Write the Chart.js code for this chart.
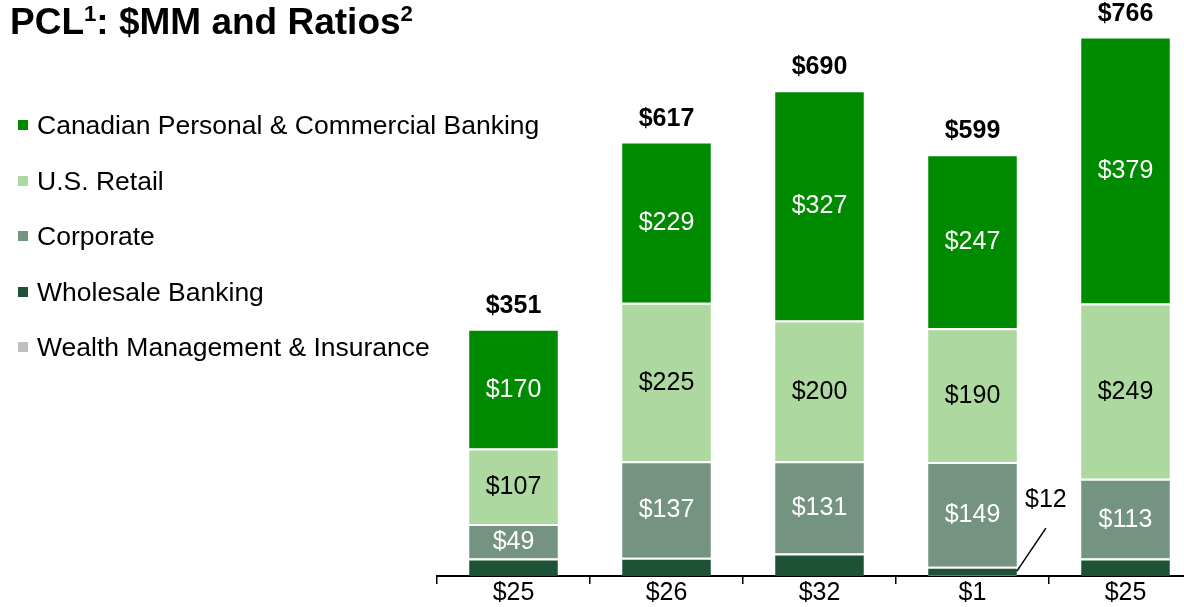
<!DOCTYPE html>
<html><head><meta charset="utf-8">
<script src="https://cdn.jsdelivr.net/npm/chart.js@4.4.1/dist/chart.umd.min.js"></script>
<style>
html,body{margin:0;padding:0;width:1184px;height:607px;overflow:hidden;background:#fff;font-family:"Liberation Sans",Arial,sans-serif;}
#title{position:absolute;left:10px;top:1px;font-weight:bold;font-size:37px;color:#000;white-space:nowrap;z-index:2;line-height:42px}
#title sup{font-size:0.6em;vertical-align:0.6em;line-height:0}
.li{position:absolute;left:18px;white-space:nowrap;font-size:26.5px;color:#000;height:30px;line-height:30px;z-index:2}
.sw{display:inline-block;width:10px;height:10px;margin-right:9px;vertical-align:middle;position:relative;top:-2px}
#c{position:absolute;left:0;top:0}
</style></head>
<body>
<div id="title">PCL<sup>1</sup>: $MM and Ratios<sup>2</sup></div>
<div id="legend"></div>
<canvas id="c" width="1230" height="607" style="width:1230px;height:607px"></canvas>
<script>
// x tick labels shown under each bar
const categories = ['$25', '$26', '$32', '$1', '$25'];
// series values ($MM)
const cpcb      = [170, 229, 327, 247, 379];
const usRetail  = [107, 225, 200, 190, 249];
const corporate = [49, 137, 131, 149, 113];
const wholesale = [25, 26, 32, 12, 25];
const wealth    = [0, 0, 0, 1, 0];
const totals    = [351, 617, 690, 599, 766];
const seriesNames = ['Canadian Personal & Commercial Banking', 'U.S. Retail', 'Corporate', 'Wholesale Banking', 'Wealth Management & Insurance'];
const seriesColors = ['#008A00', '#ADD9A0', '#759381', '#1E5236', '#BFBFBF'];
const calloutIndex = 3; // wholesale value shown with leader line
const calloutText = '$12';

// HTML legend
const legendEl = document.getElementById('legend');
seriesNames.forEach((n, i) => {
  const d = document.createElement('div');
  d.className = 'li';
  d.style.top = (110 + i * 55.5) + 'px';
  d.innerHTML = '<span class="sw" style="background:' + seriesColors[i] + '"></span>';
  d.appendChild(document.createTextNode(n));
  legendEl.appendChild(d);
});

const FONT = '"Liberation Sans", Arial, sans-serif';
const ds = (label, data, color, labelColor) => ({
  label, data, backgroundColor: color,
  borderColor: '#ffffff', borderWidth: {top: 2, bottom: 0, left: 0, right: 0}, borderSkipped: false,
  labelColor
});

const labelPlugin = {
  id: 'segLabels',
  afterDatasetsDraw(chart) {
    const ctx = chart.ctx;
    ctx.save();
    chart.data.datasets.forEach((d, di) => {
      const meta = chart.getDatasetMeta(di);
      if (d.labelColor) {
        meta.data.forEach((el, i) => {
          const v = d.data[i];
          ctx.font = '25px ' + FONT;
          ctx.fillStyle = d.labelColor;
          ctx.textAlign = 'center';
          ctx.textBaseline = 'middle';
          ctx.fillText('$' + v, el.x, (el.y + el.base) / 2 + 1);
        });
      }
    });
    // totals
    const top = chart.getDatasetMeta(chart.data.datasets.length - 1);
    top.data.forEach((el, i) => {
      ctx.font = 'bold 25px ' + FONT;
      ctx.fillStyle = '#000';
      ctx.textAlign = 'center';
      ctx.textBaseline = 'alphabetic';
      ctx.fillText('$' + totals[i], el.x, el.y - 16);
    });
    // callout for wholesale
    const wIdx = chart.data.datasets.findIndex(d => d.label === 'Wholesale Banking');
    const el = chart.getDatasetMeta(wIdx).data[calloutIndex];
    const x0 = el.x + el.width / 2, y0 = (el.y + el.base) / 2;
    ctx.strokeStyle = '#000';
    ctx.lineWidth = 1.5;
    ctx.beginPath();
    ctx.moveTo(x0, y0);
    ctx.lineTo(x0 + 29, y0 - 43);
    ctx.stroke();
    ctx.font = '25px ' + FONT;
    ctx.fillStyle = '#000';
    ctx.textAlign = 'center';
    ctx.textBaseline = 'middle';
    ctx.fillText(calloutText, x0 + 29, y0 - 71);
    ctx.restore();
  }
};

new Chart(document.getElementById('c'), {
  type: 'bar',
  data: {
    labels: categories,
    datasets: [
      ds('Wealth Management & Insurance', wealth, seriesColors[4], null),
      ds('Wholesale Banking', wholesale, seriesColors[3], null),
      ds('Corporate', corporate, seriesColors[2], '#ffffff'),
      ds('U.S. Retail', usRetail, seriesColors[1], '#000000'),
      ds('Canadian Personal & Commercial Banking', cpcb, seriesColors[0], '#ffffff')
    ]
  },
  options: {
    responsive: false,
    animation: false,
    devicePixelRatio: 1,
    layout: {padding: {left: 437, right: 28, top: 0, bottom: 0}},
    datasets: {bar: {categoryPercentage: 1, barPercentage: 0.58}},
    plugins: {legend: {display: false}, tooltip: {enabled: false}, title: {display: false}},
    scales: {
      x: {
        stacked: true,
        z: 1,
        afterFit(scale) { scale.height = 31; },
        grid: {offset: true, drawOnChartArea: false, drawTicks: true, tickLength: 8, color: '#000', lineWidth: 1.5},
        border: {display: true, color: '#000', width: 2},
        ticks: {color: '#000', font: {family: FONT, size: 25}, padding: -6, maxRotation: 0, autoSkip: false}
      },
      y: {stacked: true, display: false, min: 0, max: 818}
    }
  },
  plugins: [labelPlugin]
});
</script>
</body></html>
